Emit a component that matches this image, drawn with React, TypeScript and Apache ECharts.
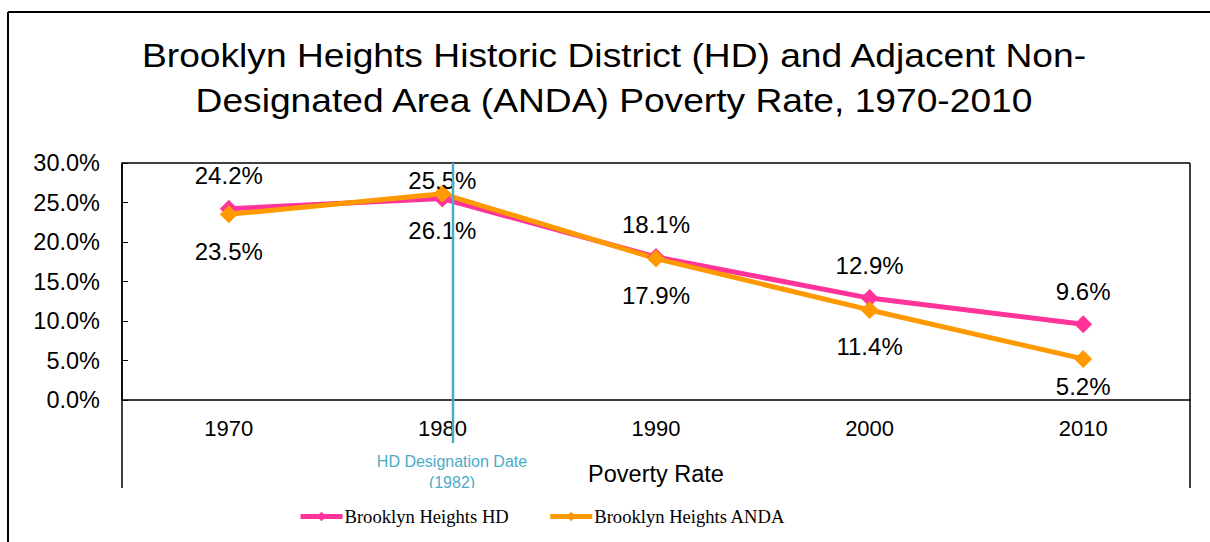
import React, { useEffect, useRef } from "react";
import * as echarts from "echarts";

const categories = ["1970", "1980", "1990", "2000", "2010"];
const hdValues = [24.2, 25.5, 18.1, 12.9, 9.6];
const andaValues = [23.5, 26.1, 17.9, 11.4, 5.2];
const yTicks = { min: 0, max: 30, interval: 5 };
const seriesNames = ["Brooklyn Heights HD", "Brooklyn Heights ANDA"];
const titleLines = [
  "Brooklyn Heights Historic District (HD) and Adjacent Non-",
  "Designated Area (ANDA) Poverty Rate, 1970-2010",
];

const FONT = "'Liberation Sans', Arial, sans-serif";

export default function App() {
  const ref = useRef<HTMLDivElement>(null);
  useEffect(() => {
    if (!ref.current) return;
    const chart = echarts.init(ref.current, null, { renderer: "svg" });
    const hdData = hdValues.map((v, i) =>
      i === 1 ? { value: v, label: { distance: -3 } } : v
    );
    const andaData = andaValues.map((v, i) =>
      i === 4 ? { value: v, label: { distance: 7 } } : v
    );
    const fmt = (p: any) => Number(p.value).toFixed(1) + "%";
    chart.setOption({
      animation: false,
      backgroundColor: "#fff",
      grid: { left: 122, right: 20, top: 163, bottom: 142 },
      legend: {
        left: 293,
        top: 502,
        itemWidth: 42,
        itemHeight: 12,
        itemGap: 39,
        lineStyle: { width: 5 },
        textStyle: {
          fontFamily: "'Liberation Serif', 'DejaVu Serif', serif",
          fontSize: 18.6,
          color: "#000",
          padding: [0, 0, 0, -3],
        },
        data: seriesNames,
      },
      xAxis: {
        type: "category",
        data: categories,
        name: "Poverty Rate",
        nameLocation: "middle",
        nameGap: 62,
        nameTextStyle: { fontFamily: FONT, fontSize: 23.5, color: "#000" },
        axisLine: { lineStyle: { color: "#000", width: 1.5 } },
        axisTick: { inside: true, alignWithLabel: true, length: 5, lineStyle: { color: "#000" } },
        axisLabel: { fontFamily: FONT, fontSize: 22, color: "#000", margin: 17 },
      },
      yAxis: {
        type: "value",
        min: yTicks.min,
        max: yTicks.max,
        interval: yTicks.interval,
        axisLine: { show: true, lineStyle: { color: "#000", width: 1.5 } },
        axisTick: { show: true, inside: true, length: 6, lineStyle: { color: "#000" } },
        splitLine: { show: false },
        axisLabel: {
          fontFamily: FONT,
          fontSize: 23.5,
          color: "#000",
          margin: 22,
          formatter: (v: number) => v.toFixed(1) + "%",
        },
      },
      series: [
        {
          name: seriesNames[0],
          type: "line",
          data: hdData,
          symbol: "diamond",
          symbolSize: 18,
          lineStyle: { color: "#FF3399", width: 5 },
          itemStyle: { color: "#FF3399" },
          label: {
            show: true,
            position: "top",
            distance: 12,
            formatter: fmt,
            fontFamily: FONT,
            fontSize: 24,
            color: "#000",
          },
        },
        {
          name: seriesNames[1],
          type: "line",
          data: andaData,
          symbol: "diamond",
          symbolSize: 18,
          lineStyle: { color: "#FF9900", width: 5 },
          itemStyle: { color: "#FF9900" },
          label: {
            show: true,
            position: "bottom",
            distance: 16,
            formatter: fmt,
            fontFamily: FONT,
            fontSize: 24,
            color: "#000",
          },
        },
      ],
      graphic: [
        {
          type: "text",
          x: 614,
          y: 55,
          scaleX: 1.127,
          style: {
            text: titleLines[0],
            fill: "#000",
            font: "33px 'Liberation Sans', Arial, sans-serif",
            align: "center",
            verticalAlign: "middle",
          },
        },
        {
          type: "text",
          x: 614,
          y: 100,
          scaleX: 1.127,
          style: {
            text: titleLines[1],
            fill: "#000",
            font: "33px 'Liberation Sans', Arial, sans-serif",
            align: "center",
            verticalAlign: "middle",
          },
        },
        { type: "line", shape: { x1: 8, y1: 12, x2: 1210, y2: 12 }, style: { stroke: "#000", lineWidth: 2 } },
        { type: "line", shape: { x1: 8, y1: 12, x2: 8, y2: 542 }, style: { stroke: "#000", lineWidth: 2 } },
        { type: "line", shape: { x1: 122, y1: 163, x2: 1190, y2: 163 }, style: { stroke: "#000", lineWidth: 1.5 } },
        { type: "line", shape: { x1: 122, y1: 163, x2: 122, y2: 488 }, style: { stroke: "#000", lineWidth: 1.5 } },
        { type: "line", shape: { x1: 1190, y1: 163, x2: 1190, y2: 488 }, style: { stroke: "#000", lineWidth: 1.5 } },
        { type: "line", z: 100, shape: { x1: 453, y1: 163, x2: 453, y2: 443 }, style: { stroke: "#4BACC6", lineWidth: 2.5 } },
        {
          type: "text",
          z: 100,
          x: 452,
          y: 451,
          style: {
            text: "HD Designation Date\n(1982)",
            fill: "#4BACC6",
            font: "16px 'Liberation Sans', Arial, sans-serif",
            align: "center",
            verticalAlign: "top",
            lineHeight: 21,
          },
        },
        { type: "rect", z: 101, shape: { x: 130, y: 488, width: 1050, height: 10 }, style: { fill: "#fff" } },
      ],
    });
    return () => chart.dispose();
  }, []);
  return (
    <div
      ref={ref}
      style={{ position: "fixed", left: 0, top: 0, width: 1210, height: 542 }}
    />
  );
}
